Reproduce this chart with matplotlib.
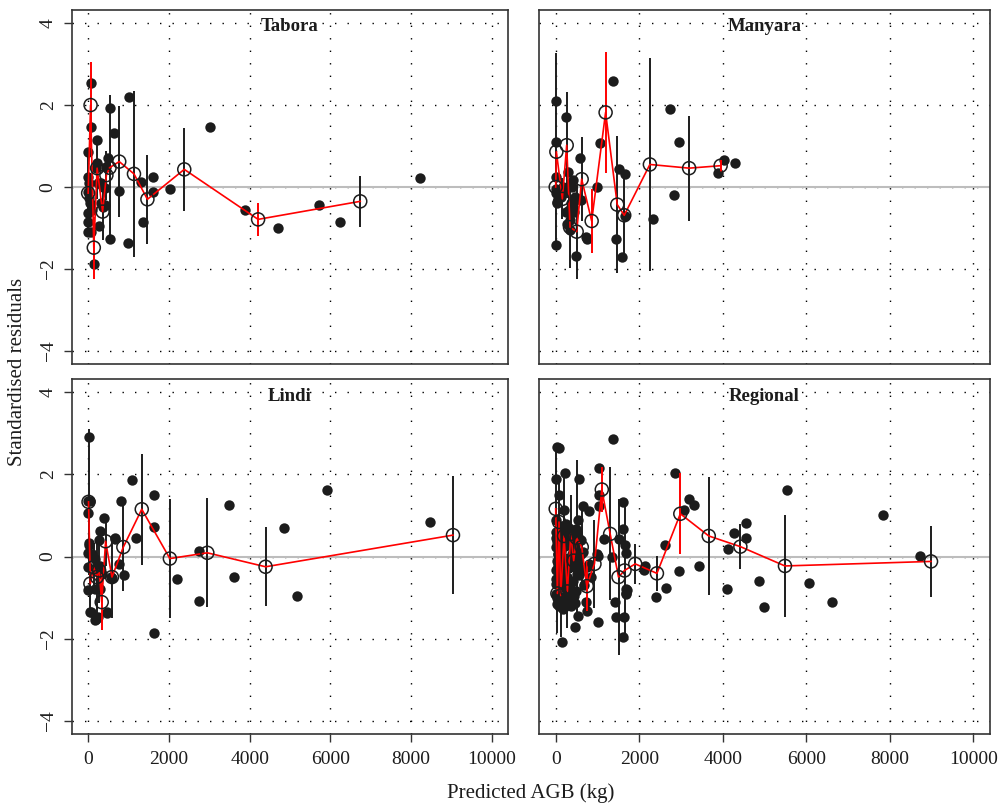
import matplotlib.pyplot as plt

plt.rcParams['font.family'] = ['Liberation Serif', 'DejaVu Serif']

# ---- Tabora ----
tabora_x = [79, 79, 214, 0, 5, 10, 0, 24, 0, 5, 0, 79, 214, 238, 317, 198, 357, 421,
            452, 500, 540, 651, 1000, 770, 532, 992, 278, 143, 357, 421, 317, 56, 103,
            1310, 1603, 1611, 1357, 2024, 3016, 3888, 4712, 5712, 6232, 8208]
tabora_y = [2.54, 1.46, 1.15, 0.86, 0.24, 0.09, -0.11, -0.28, -0.64, -0.85, -1.10, -1.10,
            0.58, 0.09, 0.09, 0.46, 0.00, -0.03, 0.50, 0.70, 1.92, 1.31, 2.19, -0.09, -1.26,
            -1.37, -0.94, -1.87, -0.48, -0.44, -0.40, -0.40, -0.56, 0.11, 0.25, -0.13, -0.86,
            -0.06, 1.47, -0.57, -0.99, -0.43, -0.85, 0.23]
tabora_bin_x = [0, 60, 140, 222, 357, 452, 530, 770, 1135, 1468, 2381, 4210, 6740]
tabora_bin_mean = [-0.15, 2.00, -1.48, 0.46, -0.60, 0.29, 0.47, 0.62, 0.32, -0.30, 0.43, -0.79, -0.35]
tabora_bin_half = [0.90, 1.05, 0.76, 0.75, 0.70, 0.60, 1.78, 1.36, 2.02, 1.09, 1.02, 0.40, 0.62]

# ---- Manyara ----
manyara_x = [16, 0, 16, 0, 32, 80, 255, 295, 414, 398, 159, 239, 335, 335, 375, 454, 574,
             494, 614, 733, 757, 1052, 996, 1371, 1434, 1506, 1657, 1657, 1578, 2335, 2733,
             2948, 2837, 3896, 4032, 4295, 175, 0, 32, 295, 414, 534, 120, 200, 260, 330,
             440, 0, 60]
manyara_y = [2.11, 1.11, 0.25, -1.41, -0.36, -0.20, 1.70, 0.37, 0.17, 0.00, -0.03, -0.61,
             -0.80, -1.05, -0.40, -0.24, 0.72, -1.68, -0.32, -1.21, -1.28, 1.07, 0.00, 2.58,
             -1.28, 0.43, 0.31, -0.70, -1.72, -0.78, 1.90, 1.11, -0.20, 0.33, 0.66, 0.58,
             0.00, -0.15, -0.40, 0.00, -0.48, -0.30, -0.25, -0.10, -0.90, -0.55, -0.60,
             -0.05, -0.30]
manyara_bin_x = [0, 16, 159, 263, 343, 502, 622, 861, 1195, 1474, 1641, 2255, 3195, 3950]
manyara_bin_mean = [0.00, 0.86, -0.29, 1.02, -0.98, -1.09, 0.19, -0.83, 1.82, -0.43, -0.69, 0.55, 0.46, 0.52]
manyara_bin_half = [0.40, 2.40, 0.50, 1.30, 1.00, 1.15, 1.03, 0.79, 1.48, 1.67, 1.07, 2.60, 1.28, 0.17]

# ---- Lindi ----
lindi_x = [16, 0, 41, 0, 0, 16, 0, 82, 206, 305, 272, 395, 305, 469, 593, 675, 774, 815,
           881, 1095, 1185, 1638, 1638, 1638, 2198, 2741, 2757, 3481, 3621, 4840, 5185, 5909,
           8461, 32, 96, 176, 256, 296, 0, 176, 296, 56, 176, 256, 456, 656, 336, 576]
lindi_y = [2.92, 1.34, 1.34, 1.05, 0.08, 0.32, -0.81, -1.34, -1.52, 0.61, 0.39, 0.93, -0.24,
           -1.36, -0.53, 0.45, -0.19, 1.34, -0.44, 1.85, 0.46, 1.49, 0.73, -1.87, -0.54, 0.14,
           -1.09, 1.26, -0.49, 0.69, -0.96, 1.61, 0.83, 0.27, 0.07, -0.06, -0.22, -0.26,
           -0.26, -0.79, -0.79, -1.36, -1.54, -1.48, -1.38, 0.43, -0.42, -0.50]
lindi_bin_x = [10, 56, 136, 216, 272, 336, 432, 590, 872, 1328, 2024, 2952, 4395, 9037]
lindi_bin_mean = [1.33, -0.66, -0.26, -0.50, -0.34, -1.11, 0.37, -0.50, 0.23, 1.15, -0.05, 0.09, -0.25, 0.52]
lindi_bin_half = [1.77, 0.70, 0.60, 0.90, 0.80, 0.68, 0.60, 1.00, 1.08, 1.35, 1.44, 1.33, 0.96, 1.44]

# ---- Regional ----
regional_x = [24, 80, 0, 224, 560, 1040, 1384, 80, 208, 664, 800, 1040, 1040, 544, 384, 480,
              304, 184, 64, 424, 264, 104, 0, 0, 24, 0, 0, 0, 24, 80, 184, 304, 464, 144, 264,
              344, 504, 544, 608, 528, 464, 144, 744, 720, 800, 1008, 1168, 1024, 1424, 1440,
              1624, 1608, 1504, 1600, 1608, 1664, 1680, 1680, 1680, 64, 144, 224, 304, 384,
              464, 104, 184, 288, 384, 2845, 3187, 3307, 3068, 2622, 2127, 2112, 2964, 3442,
              2645, 2406, 1705, 1689, 4263, 4120, 4558, 4558, 4112, 4861, 4996, 5530, 6064,
              6614, 7841, 8717, 1355, 996,
              16, 40, 120, 160, 240, 320, 400, 440, 520, 600, 16, 56, 96, 136, 200, 248, 352,
              408, 480, 560, 40, 120, 168, 232, 312, 368, 448, 616, 680, 760, 0, 60, 128, 216,
              296, 376, 456, 520, 656, 840]
regional_y = [2.67, 2.63, 1.89, 2.03, 1.89, 2.16, 2.85, 1.49, 1.12, 1.24, 1.11, 1.22, 1.49,
              0.89, 0.63, 0.67, 0.59, 0.55, 0.51, 0.39, 0.47, 0.23, 0.88, 0.23, -0.10, -0.34,
              -0.67, -0.91, -1.15, -1.20, -1.28, -1.17, -1.14, -0.63, -0.50, -0.26, -0.42,
              -0.10, 0.07, -1.46, -1.72, -2.07, -1.32, -1.11, -0.18, 0.02, 0.43, -1.60, -1.10,
              -1.48, -1.48, -1.97, 0.43, 1.33, 0.67, 0.29, 0.08, -0.79, -0.91, 0.07, -0.10,
              -0.26, -0.10, 0.07, 0.23, -0.42, -0.75, -0.91, -1.07, 2.03, 1.40, 1.26, 1.14,
              0.27, -0.22, -0.32, -0.36, -0.23, -0.77, -0.99, -0.81, -0.88, 0.57, 0.19, 0.81,
              0.46, -0.79, -0.59, -1.24, 1.63, -0.65, -1.10, 1.01, 0.02, -0.02, 0.06,
              0.60, 0.35, 0.75, 0.30, 0.80, 0.70, 0.45, 0.15, 0.60, 0.40, -0.55, -0.20, -0.40,
              -0.05, -0.55, -0.30, -0.75, -0.60, -0.85, -0.45, -1.00, -0.70, -1.10, -0.95,
              -0.60, -1.20, -0.95, -0.35, -0.70, -0.25, 0.45, 0.05, 0.10, 0.25, 0.30, -0.05,
              0.05, -0.20, 0.10, -0.50]
regional_bin_x = [0, 40, 80, 120, 200, 280, 360, 430, 500, 624, 744, 928, 1104, 1304, 1504,
                  1648, 1904, 2424, 2984, 3665, 4422, 5490, 8988]
regional_bin_mean = [1.16, -0.90, 0.84, -0.95, 0.50, -0.85, 0.55, -0.10, 0.45, 0.23, -0.72,
                     -0.18, 1.63, 0.55, -0.50, -0.34, -0.18, -0.41, 1.04, 0.50, 0.24, -0.23, -0.12]
regional_bin_half = [1.50, 0.95, 1.00, 1.00, 1.50, 0.90, 0.95, 0.80, 1.90, 1.00, 0.60, 1.08,
                     0.55, 1.62, 1.89, 1.58, 0.48, 0.42, 0.99, 1.43, 0.55, 1.24, 0.87]

panels = [
    ('Tabora', tabora_x, tabora_y, tabora_bin_x, tabora_bin_mean, tabora_bin_half),
    ('Manyara', manyara_x, manyara_y, manyara_bin_x, manyara_bin_mean, manyara_bin_half),
    ('Lindi', lindi_x, lindi_y, lindi_bin_x, lindi_bin_mean, lindi_bin_half),
    ('Regional', regional_x, regional_y, regional_bin_x, regional_bin_mean, regional_bin_half),
]

X_TICKS = [0, 2000, 4000, 6000, 8000, 10000]
Y_TICKS = [-4, -2, 0, 2, 4]
W, H = 1004, 808
# panel frames in pixels: left, top, right, bottom
BOXES = [(72, 10, 508, 364), (539, 10, 990, 364), (72, 379, 508, 734), (539, 379, 990, 734)]
INK = '#1c1c1c'


def draw_panel(ax, title, px, py, bx, bm, bh):
    for g in X_TICKS:
        ax.axvline(g, color='black', lw=1.0, ls=(0, (1, 8)), zorder=1)
    for g in Y_TICKS:
        ax.axhline(g, color='black', lw=1.0, ls=(0, (1, 8)), zorder=1)
    ax.axhline(0, color='#bdbdbd', lw=1.5, zorder=1.5)
    ax.scatter(px, py, s=56, color=INK, linewidths=0, zorder=2)
    # error bars in red where the interval excludes zero
    for x, m, h in zip(bx, bm, bh):
        col = 'red' if (m - h > 0 or m + h < 0) else INK
        ax.vlines(x, m - h, m + h, color=col, lw=1.4, zorder=3)
    ax.plot(bx, bm, color='red', lw=1.2, zorder=4)
    ax.scatter(bx, bm, s=88, facecolors='none', edgecolors=INK, linewidths=1.1, zorder=5)
    ax.text(0.5, 0.952, title, transform=ax.transAxes, ha='center', va='center',
            fontweight='bold', fontsize=13.5, color=INK)
    ax.set_xlim(-400, 10400)
    ax.set_ylim(-4.32, 4.32)
    for s in ax.spines.values():
        s.set_color('#333333')
        s.set_linewidth(1.2)


fig = plt.figure(figsize=(W / 100, H / 100), dpi=100)
for i, (box, panel) in enumerate(zip(BOXES, panels)):
    l, t, r, b = box
    ax = fig.add_axes([l / W, 1 - b / H, (r - l) / W, (b - t) / H])
    draw_panel(ax, *panel)
    ax.tick_params(direction='out', length=6, width=1, color='#333333',
                   labelsize=14, labelcolor=INK)
    if i % 2 == 0:
        ax.set_yticks(Y_TICKS)
        ax.set_yticklabels(['\u22124', '\u22122', '0', '2', '4'], rotation=90, va='center')
        ax.tick_params(axis='y', pad=5)
    else:
        ax.set_yticks([])
    if i >= 2:
        ax.set_xticks(X_TICKS)
        ax.tick_params(axis='x', pad=6)
    else:
        ax.set_xticks([])

fig.text(531 / W, 1 - 793 / H, 'Predicted AGB (kg)', ha='center', va='center',
         fontsize=15, color=INK)
fig.text(18 / W, 1 - 372 / H, 'Standardised residuals', ha='center', va='center',
         rotation=90, fontsize=15, color=INK)

fig.savefig('out.png', dpi=100)
